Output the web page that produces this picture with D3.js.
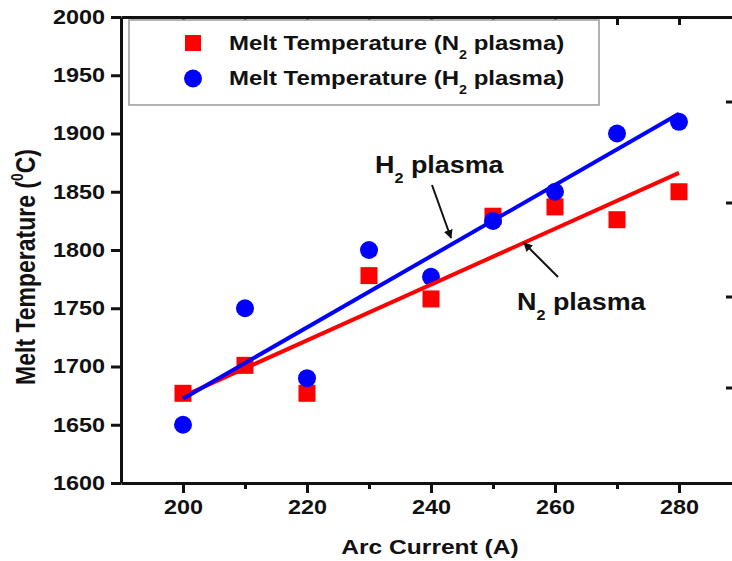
<!DOCTYPE html>
<html>
<head>
<meta charset="utf-8">
<script src="https://cdnjs.cloudflare.com/ajax/libs/d3/7.8.5/d3.min.js"></script>
<style>
  body { margin: 0; background: #fff; }
  svg { display: block; font-family: "Liberation Sans", Arial, sans-serif; font-weight: bold; }
</style>
</head>
<body>
<div id="chart"></div>
<script>
// data
const current = [200, 210, 220, 230, 240, 250, 260, 270, 280];
const tempN2 = [1677, 1701, 1677, 1778, 1758, 1829, 1837, 1826, 1850];
const tempH2 = [1650, 1750, 1690, 1800, 1777, 1825, 1850, 1900, 1910];
const xTicks = [200, 220, 240, 260, 280];
const xMinor = [210, 230, 250, 270];
const yTicks = [1600, 1650, 1700, 1750, 1800, 1850, 1900, 1950, 2000];

const W = 732, H = 561;
const SX = 1.17; // the source picture is a bit stretched sideways

const svg = d3.select("#chart").append("svg")
    .attr("width", W).attr("height", H);

// scales
const x = d3.scaleLinear().domain([190, 290]).range([121, 741]);
const y = d3.scaleLinear().domain([1600, 2000]).range([483, 17]);

// text with sub/superscripts, stretched like the original
function richText(parent, px, py, size, anchor, parts, rotate) {
    const t = parent.append("text")
        .attr("transform", "translate(" + px + "," + py + ") scale(" + SX + ",1)" + (rotate ? " rotate(-90)" : ""))
        .attr("font-size", size)
        .attr("text-anchor", anchor)
        .attr("fill", "#111");
    let shift = 0;
    parts.forEach(function(p) {
        if (typeof p === "string") {
            t.append("tspan").attr("dy", -shift).text(p);
            shift = 0;
        } else {
            const d = p.sub ? size * 0.42 : -size * 0.45;
            t.append("tspan").attr("dy", d - shift)
                .attr("font-size", size * 0.6)
                .text(p.sub || p.sup);
            shift = d;
        }
    });
    return t;
}

// axes
function styleAxis(g, fontSize) {
    g.attr("font-family", "Liberation Sans, Arial, sans-serif");
    g.select(".domain").attr("stroke", "#111").attr("stroke-width", 3);
    g.selectAll(".tick line").attr("stroke", "#111").attr("stroke-width", 3);
    g.selectAll(".tick text")
        .attr("fill", "#111")
        .attr("font-size", fontSize)
        .attr("font-weight", "bold")
        .attr("transform", "scale(" + SX + ",1)");
}

const gx = svg.append("g")
    .attr("transform", "translate(0," + y(1600) + ")")
    .call(d3.axisBottom(x).tickValues(xTicks).tickFormat(d3.format("d"))
        .tickSize(10).tickPadding(7).tickSizeOuter(0));
styleAxis(gx, 20);

const gxMinor = svg.append("g")
    .attr("transform", "translate(0," + y(1600) + ")")
    .call(d3.axisBottom(x).tickValues(xMinor).tickSize(6).tickFormat(""));
gxMinor.select(".domain").remove();
styleAxis(gxMinor, 20);

const gTop = svg.append("g")
    .attr("transform", "translate(0," + y(2000) + ")")
    .call(d3.axisBottom(x).tickValues(xTicks.concat(xMinor)).tickSize(8).tickFormat("").tickSizeOuter(0));
styleAxis(gTop, 20);

const gy = svg.append("g")
    .attr("transform", "translate(" + x(190) + ",0)")
    .call(d3.axisLeft(y).tickValues(yTicks).tickFormat(d3.format("d"))
        .tickSize(10).tickPadding(3.7).tickSizeOuter(0));
styleAxis(gy, 20);

// axis titles
richText(svg, 430, 554, 21, "middle", ["Arc Current (A)"]);
richText(svg, 35, 267, 23, "middle", ["Melt Temperature (", {sup: "0"}, "C)"], true);

// linear fits
function fit(xs, ys) {
    const mx = d3.mean(xs), my = d3.mean(ys);
    const b = d3.sum(xs, (v, i) => (v - mx) * (ys[i] - my)) / d3.sum(xs, v => (v - mx) * (v - mx));
    return v => my + b * (v - mx);
}
const fitN2 = fit(current, tempN2);
const fitH2 = fit(current, tempH2);
const ends = d3.extent(current);

// points
svg.append("g").selectAll("rect")
    .data(current)
    .enter().append("rect")
    .attr("x", (d) => x(d) - 8.5)
    .attr("y", (d, i) => y(tempN2[i]) - 8.5)
    .attr("width", 17).attr("height", 17)
    .attr("fill", "#ff0000");

svg.append("g").selectAll("circle")
    .data(current)
    .enter().append("circle")
    .attr("cx", (d) => x(d))
    .attr("cy", (d, i) => y(tempH2[i]))
    .attr("r", 9)
    .attr("fill", "#0000ff");

const line = d3.line().x(d => x(d[0])).y(d => y(d[1]));
svg.append("path")
    .attr("d", line(ends.map(v => [v, fitN2(v)])))
    .attr("fill", "none").attr("stroke", "#ff0000").attr("stroke-width", 4);
svg.append("path")
    .attr("d", line(ends.map(v => [v, fitH2(v)])))
    .attr("fill", "none").attr("stroke", "#0000ff").attr("stroke-width", 4);

// annotations with arrows
svg.append("defs").append("marker")
    .attr("id", "head").attr("viewBox", "0 0 10 10")
    .attr("refX", 9).attr("refY", 5)
    .attr("markerWidth", 4.5).attr("markerHeight", 4.5)
    .attr("orient", "auto")
    .append("path").attr("d", "M0,0L10,5L0,10Z").attr("fill", "#111");

svg.append("line")
    .attr("x1", 432).attr("y1", 185).attr("x2", 451).attr("y2", 238)
    .attr("stroke", "#111").attr("stroke-width", 2).attr("marker-end", "url(#head)");
svg.append("line")
    .attr("x1", 558).attr("y1", 277).attr("x2", 524).attr("y2", 243)
    .attr("stroke", "#111").attr("stroke-width", 2).attr("marker-end", "url(#head)");

richText(svg, 375, 173, 23, "start", ["H", {sub: "2"}, " plasma"]);
richText(svg, 517, 310, 23, "start", ["N", {sub: "2"}, " plasma"]);

// legend
const legend = svg.append("g");
legend.append("rect")
    .attr("x", 129).attr("y", 20).attr("width", 470).attr("height", 85)
    .attr("fill", "#fff").attr("stroke", "#999").attr("stroke-width", 1.5);
legend.append("rect")
    .attr("x", 185).attr("y", 35).attr("width", 16).attr("height", 16)
    .attr("fill", "#ff0000");
legend.append("circle")
    .attr("cx", 193).attr("cy", 78.5).attr("r", 9)
    .attr("fill", "#0000ff");
richText(legend, 229, 50, 20.5, "start", ["Melt Temperature (N", {sub: "2"}, " plasma)"]);
richText(legend, 229, 85, 20.5, "start", ["Melt Temperature (H", {sub: "2"}, " plasma)"]);

// stray tick marks of the neighbouring panel at the right edge
svg.append("g").selectAll("line")
    .data([102, 203, 297, 388])
    .enter().append("line")
    .attr("x1", 726).attr("x2", 733)
    .attr("y1", d => d).attr("y2", d => d)
    .attr("stroke", "#111").attr("stroke-width", 3);
</script>
</body>
</html>
